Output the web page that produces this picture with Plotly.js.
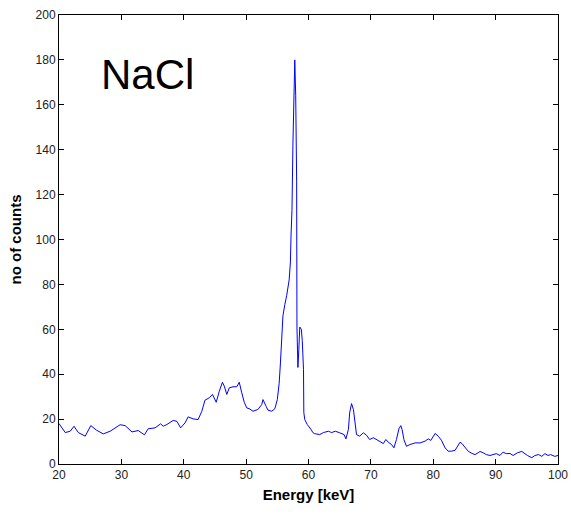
<!DOCTYPE html>
<html>
<head>
<meta charset="utf-8">
<script src="https://cdn.plot.ly/plotly-3.0.1.min.js"></script>
<style>html,body{margin:0;padding:0;background:#fff;}#chart{width:571px;height:514px;}</style>
</head>
<body>
<div id="chart"></div>
<script>
const energy = [
  20.0, 21.0, 21.8, 22.4, 23.1, 24.2, 25.1, 26.0, 27.1, 28.2, 29.8, 30.6, 31.7, 32.7, 33.7, 34.3, 35.4, 36.3, 36.7,
  37.3, 38.3, 38.9, 39.5, 40.2, 40.7, 41.5, 42.3, 42.9, 43.4, 44.1, 44.6, 45.2, 45.7, 46.2, 46.5, 46.9, 47.3, 47.9,
  48.5, 48.9, 49.3, 49.7, 50.1, 50.6, 51.1, 51.9, 52.5, 52.7, 53.2, 53.5, 54.1, 54.6, 55.0, 55.3, 55.5, 55.7, 55.9,
  56.2, 56.5, 56.9, 57.1, 57.2, 57.35, 57.5, 57.65, 57.8, 57.95, 58.1, 58.15, 58.3, 58.45, 58.6, 58.85, 59.0, 59.2,
  59.25, 59.4, 59.8, 60.4, 60.7, 61.0, 61.8, 62.4, 63.2, 63.7, 64.3, 65.0, 65.7, 66.0, 66.4, 66.6, 66.9, 67.2, 67.4,
  67.7, 68.2, 68.8, 69.3, 69.8, 70.4, 70.9, 71.4, 72.0, 72.4, 72.8, 73.3, 73.7, 74.1, 74.5, 74.8, 75.0, 75.3, 75.7,
  76.3, 77.1, 77.9, 78.7, 79.2, 79.6, 80.3, 80.8, 81.3, 81.9, 82.4, 82.9, 83.5, 83.9, 84.3, 84.6, 85.1, 85.6, 86.2,
  86.7, 87.2, 87.5, 88.0, 88.5, 89.1, 89.6, 90.1, 90.7, 91.2, 91.7, 92.3, 92.8, 93.5, 94.2, 94.6, 95.1, 95.8, 96.3,
  96.9, 97.4, 97.9, 98.4, 98.8, 99.5, 100.0
];
const counts = [
  18.0, 14.0, 14.6, 16.8, 14.0, 12.4, 17.1, 15.1, 13.4, 14.6, 17.5, 17.1, 14.3, 14.9, 13.0, 15.7, 16.1, 17.9, 16.8,
  17.6, 19.4, 19.0, 16.1, 18.3, 21.0, 20.1, 19.8, 23.5, 28.4, 29.5, 31.0, 27.5, 32.4, 36.4, 34.7, 31.0, 33.9, 34.4,
  34.4, 36.4, 31.7, 27.5, 25.0, 24.5, 23.5, 24.3, 26.5, 28.7, 25.7, 24.0, 23.5, 24.6, 28.7, 36.0, 45.0, 54.0, 66.0,
  71.0, 75.0, 82.0, 90.0, 102.0, 113.0, 142.0, 164.0, 180.0, 164.0, 126.0, 61.0, 43.0, 51.0, 61.0, 60.0, 55.0, 42.0,
  23.0, 19.8, 17.6, 15.4, 14.0, 13.5, 13.1, 14.0, 14.6, 14.0, 14.6, 13.9, 13.1, 11.2, 15.4, 22.8, 26.9, 24.3, 18.4,
  13.1, 12.4, 13.9, 12.8, 10.9, 11.7, 10.9, 10.2, 9.1, 10.9, 9.7, 8.7, 7.2, 10.9, 15.7, 17.1, 15.4, 10.9, 7.9,
  8.7, 9.4, 9.4, 10.2, 11.2, 10.5, 13.6, 12.4, 10.6, 7.2, 5.7, 5.7, 6.1, 7.9, 9.7, 9.1, 7.2, 5.7, 4.7,
  4.2, 5.0, 5.6, 5.0, 4.2, 3.8, 4.2, 4.6, 3.8, 5.3, 4.6, 4.7, 3.8, 5.0, 5.6, 4.6, 3.8, 2.8, 3.8,
  4.2, 3.4, 4.6, 3.8, 4.2, 3.4, 3.8
];
const xTicks = [20, 30, 40, 50, 60, 70, 80, 90, 100];
const yTicks = [0, 20, 40, 60, 80, 100, 120, 140, 160, 180, 200];
const sampleLabel = "NaCl";

const trace = {
  x: energy, y: counts, type: 'scatter', mode: 'lines',
  line: {color: '#0000ff', width: 1}, hoverinfo: 'skip', showlegend: false
};

const axisCommon = {
  showgrid: false, zeroline: false, showline: true, linecolor: '#000', linewidth: 1,
  mirror: 'ticks', ticks: 'inside', ticklen: 5, tickcolor: '#000', tickwidth: 1,
  tickfont: {family: 'Liberation Sans, Arial, sans-serif', size: 12, color: '#222'}
};

const layout = {
  width: 571, height: 514,
  margin: {l: 59, r: 13, t: 15, b: 50},
  paper_bgcolor: '#fff', plot_bgcolor: '#fff',
  xaxis: Object.assign({}, axisCommon, {
    range: [20, 100], tickvals: xTicks, ticktext: xTicks.map(String),
    title: {text: 'Energy [keV]', standoff: 8, font: {family: 'Liberation Sans, Arial, sans-serif', size: 15, color: '#000', weight: 'bold'}}
  }),
  yaxis: Object.assign({}, axisCommon, {
    range: [0, 200], tickvals: yTicks, ticktext: yTicks.map(String),
    title: {text: 'no of counts', standoff: 10, font: {family: 'Liberation Sans, Arial, sans-serif', size: 15, color: '#000', weight: 'bold'}}
  }),
  annotations: [{
    x: 26.4, y: 173.5, xref: 'x', yref: 'y', xanchor: 'left', yanchor: 'middle',
    text: sampleLabel, showarrow: false,
    font: {family: 'Liberation Sans, Arial, sans-serif', size: 42, color: '#000'}
  }]
};

Plotly.newPlot('chart', [trace], layout, {displayModeBar: false, staticPlot: true});
</script>
</body>
</html>
